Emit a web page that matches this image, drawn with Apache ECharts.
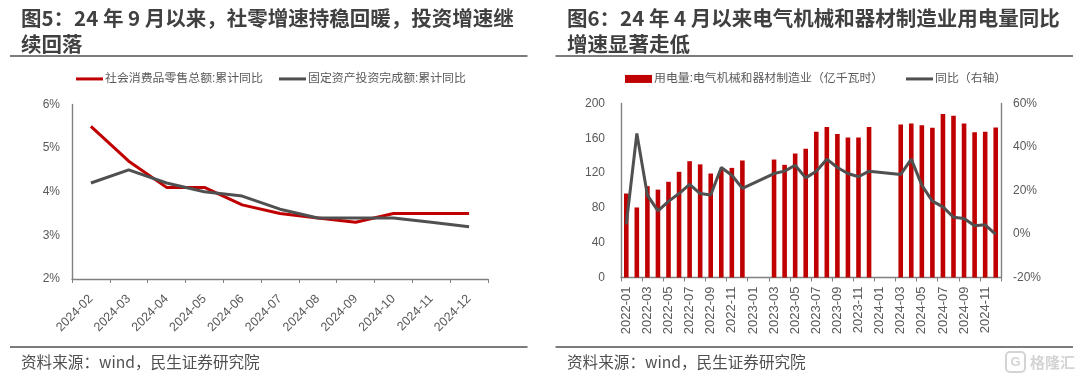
<!DOCTYPE html>
<html><head><meta charset="utf-8">
<style>html,body{margin:0;padding:0;background:#fff}#c{width:1080px;height:375px}</style>
<script src="https://cdn.jsdelivr.net/npm/echarts@6/dist/echarts.min.js"></script>
</head><body><div id="c"></div>
<script>
const retailMonths=['2024-02','2024-03','2024-04','2024-05','2024-06','2024-07','2024-08','2024-09','2024-10','2024-11','2024-12'];
const retailGrowth=[5.5,4.7,4.1,4.1,3.7,3.5,3.4,3.3,3.5,3.5,3.5];
const fixedInvestGrowth=[4.2,4.5,4.2,4.0,3.9,3.6,3.4,3.4,3.4,3.3,3.2];
const powerMonths=[];
['2022','2023','2024'].forEach(y=>{['01','02','03','04','05','06','07','08','09','10','11','12'].forEach(m=>powerMonths.push(y+'-'+m));});
const powerUse=[96.5,80.5,105,101,110,121.5,133.7,130,119.5,124,126,134.5,
 null,null,135.6,129.5,142.5,148,167.4,173,165,161,161,173,
 null,null,176,177,175,172,188,186,177,167,167.4,172.5];
const powerYoY=[4.4,46.2,17.9,10.6,15,18.6,22.8,18.6,17.9,30.6,27,21,
 null,null,27.8,28.9,31.6,25.8,28.9,34.4,30.6,27.8,26.3,28.9,
 null,null,27.4,34.4,22.4,15.1,12.5,7.7,7.1,3.8,4.2,-0.2];
const title5='图5：24 年 9 月以来，社零增速持稳回暖，投资增速继\n续回落';
const title6='图6：24 年 4 月以来电气机械和器材制造业用电量同比\n增速显著走低';
const sourceText='资料来源：wind，民生证券研究院';
const nameRetail='社会消费品零售总额:累计同比', nameInvest='固定资产投资完成额:累计同比';
const namePower='用电量:电气机械和器材制造业（亿千瓦时）', nameYoY='同比（右轴）';

const FONT='"Noto Sans CJK SC","Liberation Sans",sans-serif';
const LBL='#595959', AX='#808080', RED='#C00000', GRAY='#505050';
const lineStyleAx={show:true,lineStyle:{color:AX,width:1.4}};
const txt={color:LBL,fontSize:12,fontFamily:'"Liberation Sans","Noto Sans CJK SC",sans-serif'};
const legendTxt=Object.assign({},txt,{fontSize:11.9,padding:[0,0,0,-3]});
const titleStyle={color:'#404040',fontSize:20.5,fontWeight:'bold',fontFamily:FONT,lineHeight:26};
function rule(x1,x2,y){return {type:'line',shape:{x1:x1,y1:y,x2:x2,y2:y},style:{stroke:'#505050',lineWidth:1.6},silent:true};}
function src(x){return {type:'text',x:x,y:362,style:{text:sourceText,fill:'#505050',font:'15.6px '+FONT,textVerticalAlign:'middle'}};}
function legendAt(left,name,h){return {left:left,top:80-Math.max(h,12)/2-1,padding:0,itemWidth:27,itemHeight:h,icon:'rect',data:[name],textStyle:legendTxt};}
const chart=echarts.init(document.getElementById('c'),null,{renderer:'canvas'});
chart.setOption({
 animation:false,backgroundColor:'#fff',
 title:[
  {text:title5,left:21,top:5,padding:0,textStyle:titleStyle},
  {text:title6,left:567,top:5,padding:0,textStyle:titleStyle}
 ],
 legend:[
  legendAt(76,nameRetail,3),legendAt(279,nameInvest,3),
  legendAt(625,namePower,8),legendAt(906,nameYoY,3)
 ],
 grid:[
  {left:72,right:592,top:104.5,height:174.5},
  {left:621,right:79,top:103.5,height:174}
 ],
 xAxis:[
  {type:'category',gridIndex:0,data:retailMonths,axisLine:lineStyleAx,axisTick:{show:true,length:4,lineStyle:{color:AX}},
   axisLabel:Object.assign({},txt,{fontSize:12.5,rotate:45,interval:0,margin:18})},
  {type:'category',gridIndex:1,data:powerMonths,axisLine:lineStyleAx,axisTick:{show:true,length:4,interval:1,lineStyle:{color:AX}},
   axisLabel:Object.assign({},txt,{fontSize:13,rotate:90,interval:1,margin:9})}
 ],
 yAxis:[
  {type:'value',gridIndex:0,min:2,max:6,interval:1,axisLine:lineStyleAx,axisTick:{show:false},splitLine:{show:false},
   axisLabel:Object.assign({},txt,{formatter:'{value}%',margin:12})},
  {type:'value',gridIndex:1,min:0,max:200,interval:40,axisLine:lineStyleAx,axisTick:{show:false},splitLine:{show:false},
   axisLabel:Object.assign({},txt,{margin:16})},
  {type:'value',gridIndex:1,position:'right',min:-20,max:60,interval:20,axisLine:lineStyleAx,axisTick:{show:false},splitLine:{show:false},
   axisLabel:Object.assign({},txt,{formatter:'{value}%',margin:12})}
 ],
 series:[
  {name:nameRetail,type:'line',xAxisIndex:0,yAxisIndex:0,data:retailGrowth,symbol:'none',lineStyle:{color:RED,width:3},itemStyle:{color:RED}},
  {name:nameInvest,type:'line',xAxisIndex:0,yAxisIndex:0,data:fixedInvestGrowth,symbol:'none',lineStyle:{color:GRAY,width:3},itemStyle:{color:GRAY}},
  {name:namePower,type:'bar',xAxisIndex:1,yAxisIndex:1,data:powerUse,barWidth:4.6,itemStyle:{color:RED}},
  {name:nameYoY,type:'line',xAxisIndex:1,yAxisIndex:2,data:powerYoY,connectNulls:true,symbol:'none',lineStyle:{color:GRAY,width:3},itemStyle:{color:GRAY},z:5}
 ],
 graphic:[
  rule(10,527.5,56),rule(555.5,1073,56),rule(10,527.5,347),rule(555.5,1073,347),
  src(21),src(567),
  {type:'rect',shape:{x:1006,y:352,width:19,height:20,r:4},style:{fill:'none',stroke:'#d4d4d4',lineWidth:2}},
  {type:'text',x:1010.5,y:362,style:{text:'G',fill:'#d4d4d4',font:'bold 13px "Liberation Sans"',textVerticalAlign:'middle'}},
  {type:'text',x:1030,y:362,style:{text:'格隆汇',fill:'#d4d4d4',font:'bold 15px '+FONT,textVerticalAlign:'middle'}}
 ]
});
</script></body></html>
